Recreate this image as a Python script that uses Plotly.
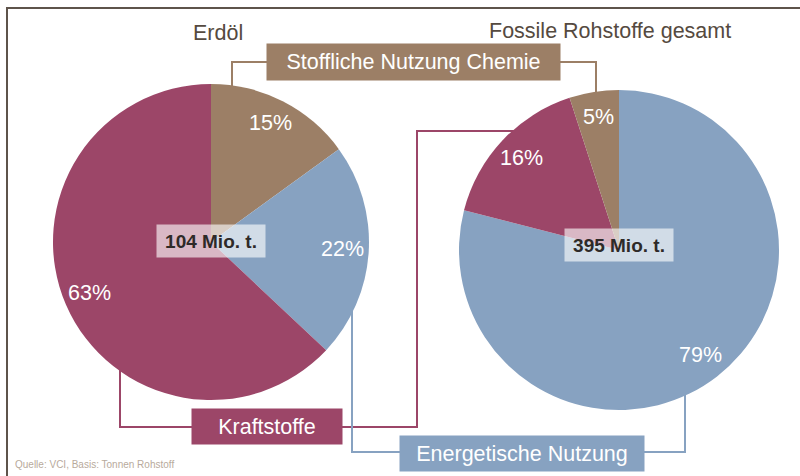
import math
import plotly.graph_objects as go

# data
erdoel_labels = ["Stoffliche Nutzung Chemie", "Energetische Nutzung", "Kraftstoffe"]
erdoel_values = [15, 22, 63]
fossil_labels = ["Energetische Nutzung", "Kraftstoffe", "Stoffliche Nutzung Chemie"]
fossil_values = [79, 16, 5]
totals = ["104 Mio. t.", "395 Mio. t."]
titles = ["Erdöl", "Fossile Rohstoffe gesamt"]

COLORS = {
    "Stoffliche Nutzung Chemie": "#9c7f66",
    "Energetische Nutzung": "#87a2c1",
    "Kraftstoffe": "#9c4668",
}
FONT = "Liberation Sans, Arial, sans-serif"
W, H = 800, 476


def px(x):
    return x / W


def py(y):
    return 1 - y / H


def note(x, y, text, **kw):
    d = dict(x=px(x), y=py(y), xref="paper", yref="paper", showarrow=False,
             text=text, xanchor="center", yanchor="middle")
    d.update(kw)
    return d


# pie geometry in pixels: centre x, centre y, radius, total-box centre y, title x, title y
pies = [(211, 242, 158, 241, 218, 33), (619, 250, 160, 245, 610, 31)]

fig = go.Figure()
annotations = []
shapes = []

for (cx, cy, r, ty, tx, tty), labels, values, total, title in zip(
        pies, [erdoel_labels, fossil_labels], [erdoel_values, fossil_values], totals, titles):
    fig.add_trace(go.Pie(
        labels=labels,
        values=values,
        sort=False,
        direction="clockwise",
        rotation=0,
        marker=dict(colors=[COLORS[l] for l in labels], line=dict(width=0)),
        textinfo="none",
        hoverinfo="label+percent",
        showlegend=False,
        domain=dict(x=[px(cx - r), px(cx + r)], y=[py(cy + r), py(cy - r)]),
    ))
    # percentage labels at slice mid angle
    cum = 0
    tot = sum(values)
    for v in values:
        mid = (cum + v / 2) / tot * 2 * math.pi
        cum += v
        lx = cx + 0.835 * r * math.sin(mid)
        ly = cy - 0.835 * r * math.cos(mid) - 1
        annotations.append(note(lx, ly, f"{v}%",
                                font=dict(family=FONT, size=21.5, color="white")))
    # total in centre
    annotations.append(note(cx, ty, f"<b>{total}</b>",
                            font=dict(family=FONT, size=19, color="#2e2a28"),
                            bgcolor="rgba(255,255,255,0.62)", width=108, height=32,
                            borderpad=0))
    annotations.append(note(tx, tty, title,
                            font=dict(family=FONT, size=21.5, color="#554a40")))

# category boxes
boxes = [
    ("Stoffliche Nutzung Chemie", 267, 560, 44, 80),
    ("Kraftstoffe", 192, 342, 409, 444),
    ("Energetische Nutzung", 400, 644, 436, 471),
]
for label, x0, x1, y0, y1 in boxes:
    annotations.append(note((x0 + x1) / 2, (y0 + y1) / 2, label,
                            font=dict(family=FONT, size=21.5, color="white"),
                            bgcolor=COLORS[label], width=x1 - x0, height=y1 - y0,
                            borderpad=0))

# connector lines (drawn below the pies)
connectors = [
    ("Stoffliche Nutzung Chemie", [(267, 62), (232, 62), (232, 150)]),
    ("Stoffliche Nutzung Chemie", [(560, 62), (596, 62), (596, 150)]),
    ("Kraftstoffe", [(192, 427), (120, 427), (120, 330)]),
    ("Kraftstoffe", [(342, 427), (417, 427), (417, 131), (560, 131)]),
    ("Energetische Nutzung", [(400, 452), (352, 452), (352, 280)]),
    ("Energetische Nutzung", [(644, 452), (685, 452), (685, 330)]),
]
for label, pts in connectors:
    path = "M " + " L ".join(f"{px(x)},{py(y)}" for x, y in pts)
    shapes.append(dict(type="path", path=path, xref="paper", yref="paper",
                       line=dict(color=COLORS[label], width=2), layer="below"))

# frame
shapes.append(dict(type="path", xref="paper", yref="paper", layer="above",
                   path=f"M {px(7)},{py(480)} L {px(7)},{py(8)} L {px(802)},{py(8)}",
                   line=dict(color="#5e544b", width=2)))

annotations.append(note(13, 464, "Quelle: VCI, Basis: Tonnen Rohstoff", xanchor="left",
                        font=dict(family=FONT, size=10, color="#b8aa9c")))

fig.update_layout(
    width=W, height=H,
    margin=dict(l=0, r=0, t=0, b=0),
    paper_bgcolor="white", plot_bgcolor="white",
    annotations=annotations, shapes=shapes,
)
fig.write_html("out.html", config={"displayModeBar": False},
               post_script="document.body.style.margin='0';")
